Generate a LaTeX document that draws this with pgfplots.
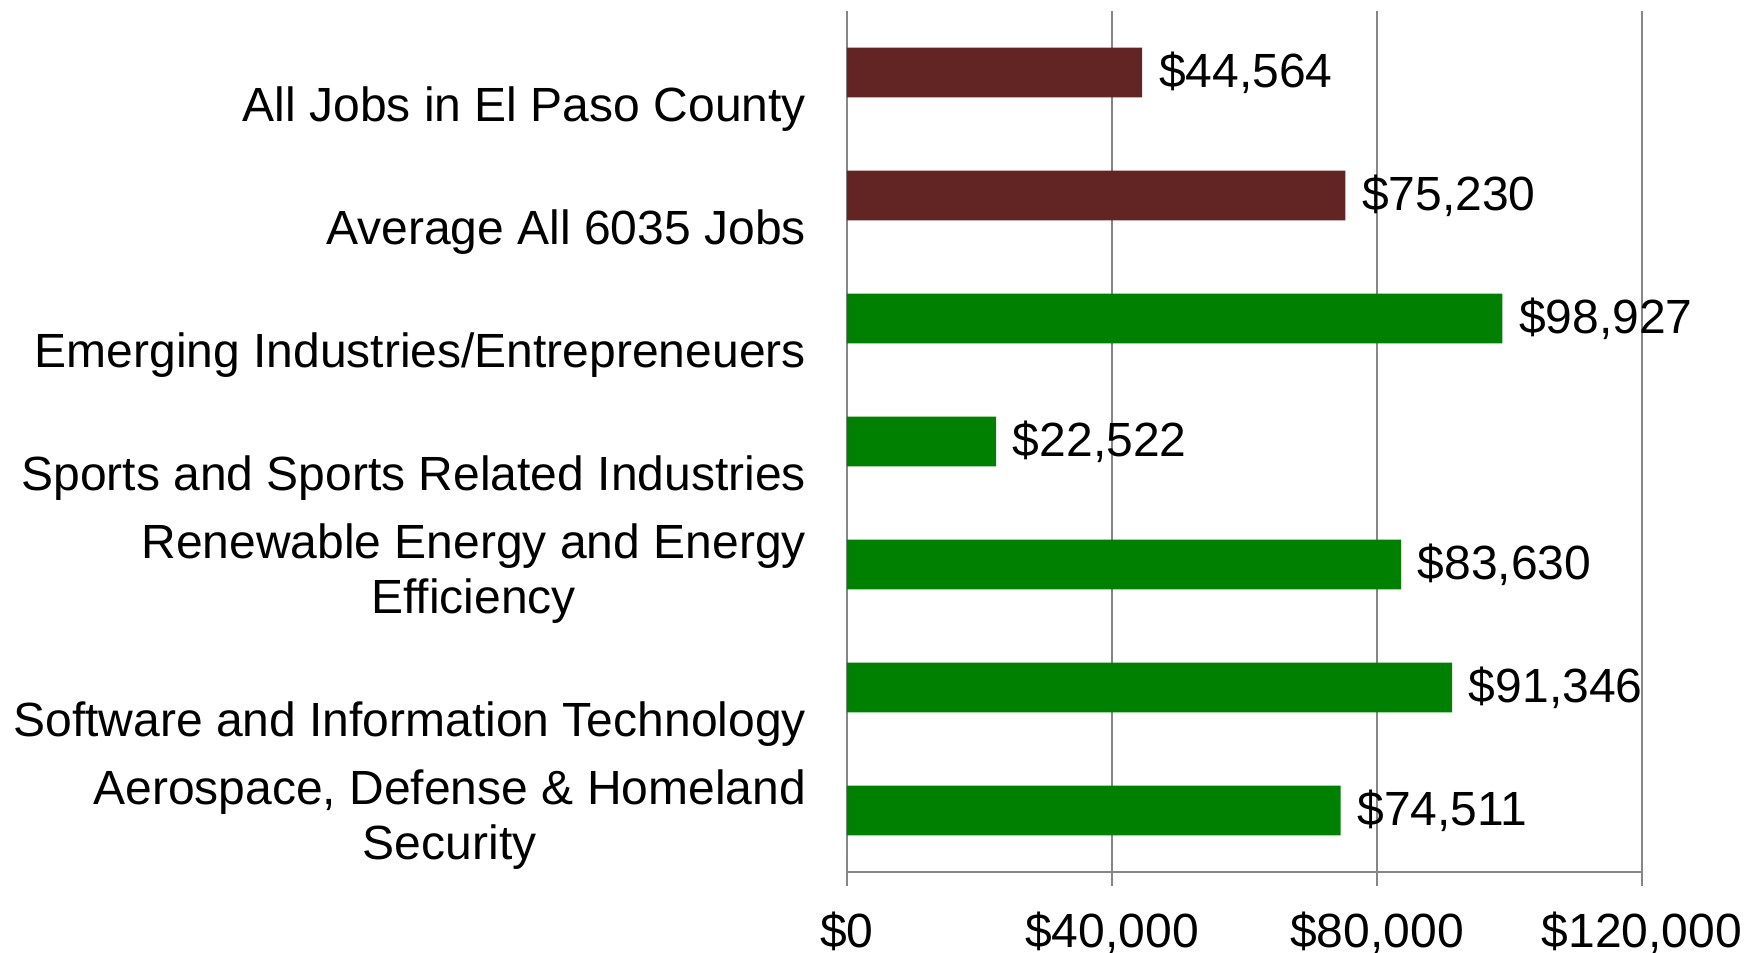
\documentclass[border=0pt]{standalone}
\usepackage{fontspec}
\setmainfont{Liberation Sans}
\usepackage{pgfplots}
\pgfplotsset{compat=1.18}
\definecolor{darkred}{RGB}{99,37,35}
\definecolor{bargreen}{RGB}{0,128,0}
\definecolor{axgray}{RGB}{134,134,134}
\begin{document}
\begin{tikzpicture}
\useasboundingbox (-254.1pt,-24.3pt) rectangle (272.7pt,261.6pt);
\begin{axis}[
  at={(0,0)}, anchor=south west,
  scale only axis, width=238.5pt, height=258.3pt,
  font=\fontsize{14.4}{16.5}\selectfont,
  xmin=0, xmax=120000,
  ymin=-0.5, ymax=6.5, y dir=reverse,
  axis lines*=left,
  axis line style={axgray, line width=0.6pt},
  xtick={0,40000,80000,120000},
  xticklabels={{\$0},{\$40,000},{\$80,000},{\$120,000}},
  ytick={0,1,2,3,5},
  yticklabels={
    {All Jobs in El Paso County},
    {Average All 6035 Jobs},
    {Emerging Industries/Entrepreneuers},
    {Sports and Sports Related Industries},
    {Software and Information Technology}},
  extra y ticks={4,6},
  extra y tick labels={
    {Renewable Energy and Energy\\Efficiency},
    {Aerospace, Defense \& Homeland\\Security}},
  extra y tick style={yticklabel style={yshift=8.3pt, xshift=-4.2pt}, major tick length=0pt, ytick style={draw=none}},
  minor ytick={-0.5,0.5,...,6.5},
  tick align=outside,
  xtick pos=bottom, ytick pos=left,
  major tick length=4.2pt,
  ytick style={draw=none},
  minor tick length=4.2pt,
  minor tick style={axgray, line width=0.6pt, draw=axgray},
  xtick style={axgray, line width=0.6pt},
  yticklabel style={align=center, anchor=east, xshift=-4.6pt, yshift=-11pt,
    font=\fontsize{14.4}{16.5}\selectfont},
  xticklabel style={inner ysep=0pt, yshift=-7.6pt, font=\fontsize{14.4}{16.5}\selectfont},
  xmajorgrids,
  grid style={axgray, line width=0.6pt},
  xbar, bar width=0.406, bar shift=0pt,
  point meta=explicit symbolic,
  nodes near coords,
  every node near coord/.append style={anchor=west, xshift=1.5pt, font=\fontsize{14.4}{16.5}\selectfont, text=black},
  clip=false,
]
\addplot[fill=darkred, draw=none] coordinates {
  (44564,0) [\$44,564]
  (75230,1) [\$75,230]
};
\addplot[fill=bargreen, draw=none] coordinates {
  (98927,2) [\$98,927]
  (22522,3) [\$22,522]
  (83630,4) [\$83,630]
  (91346,5) [\$91,346]
  (74511,6) [\$74,511]
};
\end{axis}
\end{tikzpicture}
\end{document}
